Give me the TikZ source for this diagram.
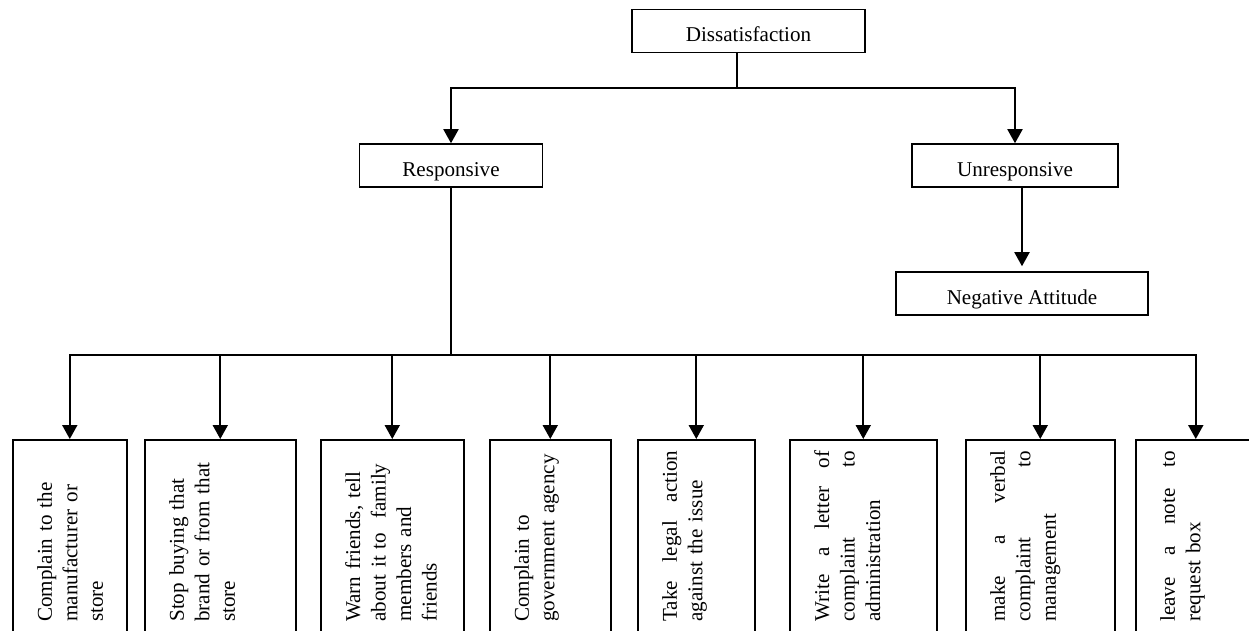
\documentclass[tikz,border=0pt]{standalone}
\usepackage{fontspec}
\setmainfont{Liberation Serif}
\usetikzlibrary{arrows.meta}

\begin{document}
\begin{tikzpicture}[x=0.02cm, y=-0.02cm,
		labelbox/.style={draw, rectangle, line width=0.9pt, inner sep=0pt, minimum height=0.86cm, text height=12.5pt, text depth=0pt, font=\fontsize{12}{14.5}\selectfont},
		actbox/.style={draw, rectangle, line width=0.9pt, anchor=north west, minimum height=4.4cm},
		acttext/.style={rotate=90, anchor=north west, inner sep=0pt, align=left, text width=3.42cm, font=\fontsize{12}{14.5}\selectfont},
		plain/.style={line width=1pt, line cap=rect},
		down/.style={line width=1.1pt, -{Triangle[length=0.28cm, width=0.3cm]}}]
				\useasboundingbox (0,0) rectangle (1249,630);
				\clip (0,0) rectangle (1249,630);

				\node (box1) [labelbox, minimum width=4.66cm] at (748.5,31) {Dissatisfaction};
				\node (box2) [labelbox, minimum width=3.66cm] at (451,165.5) {Responsive};
				\node (box3) [labelbox, minimum width=4.12cm] at (1015,165.5) {Unresponsive};
				\node (box4) [labelbox, minimum width=5.04cm] at (1022,293.5) {Negative Attitude};

				\node (act1) [actbox, minimum width=2.28cm] at (12,439) {};
				\node (act2) [actbox, minimum width=3.02cm] at (144,439) {};
				\node (act3) [actbox, minimum width=2.86cm] at (320,439) {};
				\node (act4) [actbox, minimum width=2.42cm] at (489,439) {};
				\node (act5) [actbox, minimum width=2.34cm] at (637,439) {};
				\node (act6) [actbox, minimum width=2.94cm] at (789,439) {};
				\node (act7) [actbox, minimum width=2.98cm] at (965,439) {};
				\node (act8) [actbox, minimum width=2.40cm] at (1135,439) {};

				\node (txt1) [acttext] at (37,622) {Complain to the\\ manufacturer or\\ store};
				\node (txt2) [acttext] at (169,622) {Stop buying that\\ brand or from that\\ store};
				\node (txt3) [acttext] at (345,622) {Warn friends, tell\\ about it to\ \ family\\ members and\\ friends};
				\node (txt4) [acttext] at (514,622) {Complain to\\ government agency};
				\node (txt5) [acttext] at (662,622) {Take\hfill legal\hfill action\\ against the issue};
				\node (txt6) [acttext] at (814,622) {Write\hfill a\hfill letter\hfill of\\ complaint\hfill to\\ administration};
				\node (txt7) [acttext] at (990,622) {make\hfill a\hfill verbal\\ complaint\hfill to\\ management};
				\node (txt8) [acttext] at (1160,622) {leave\hfill a\hfill note\hfill to\\ request box};

				\coordinate (top) at (737,88);
				\coordinate (bus) at (451,355);

				% Arrows
				\draw[plain] (box1.south -| top) -- (top);
				\draw[plain] (box2.north |- top) -- (box3.north |- top);
				\draw[down] (box2.north |- top) -- (box2.north);
				\draw[down] (box3.north |- top) -- (box3.north);
				\draw[down, shorten >=0.1cm] (box3.south -| box4) -- (box4.north);
				\draw[plain] (box2.south) -- (bus);
				\draw[plain] (act1.north |- bus) -- (act8.north |- bus);
				\draw[down] (act1.north |- bus) -- (act1.north);
				\draw[down] (act2.north |- bus) -- (act2.north);
				\draw[down] (act3.north |- bus) -- (act3.north);
				\draw[down] (act4.north |- bus) -- (act4.north);
				\draw[down] (act5.north |- bus) -- (act5.north);
				\draw[down] (act6.north |- bus) -- (act6.north);
				\draw[down] (act7.north |- bus) -- (act7.north);
				\draw[down] (act8.north |- bus) -- (act8.north);
		\end{tikzpicture}
\end{document}
